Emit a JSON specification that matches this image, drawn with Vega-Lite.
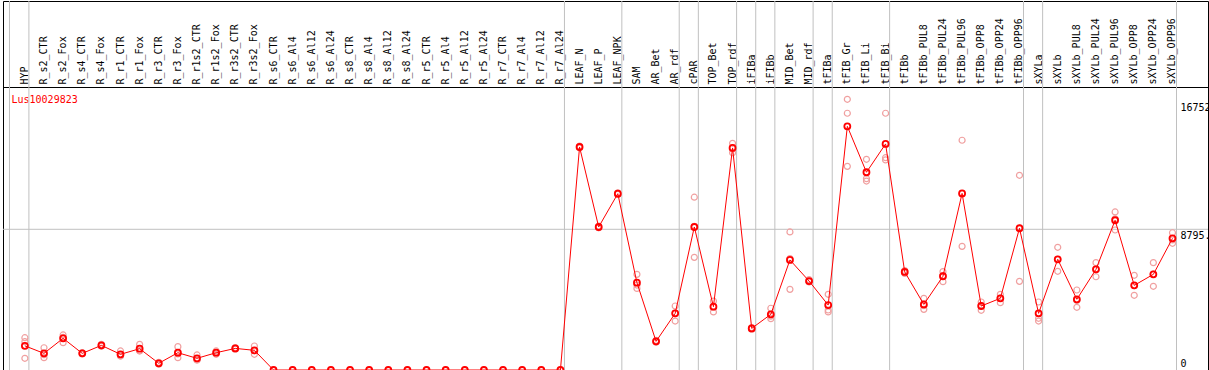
{
  "$schema": "https://vega.github.io/schema/vega-lite/v6.json",
  "padding": {"left": 2, "right": 2, "top": 0, "bottom": 0},
  "background": "white",
  "width": 1205,
  "height": 369,
  "config": {"view": {"stroke": "black", "strokeWidth": 1}, "font": "DejaVu Sans Mono"},
  "datasets": {
    "seps": [{"sample": "HYP"}, {"sample": "R_r7_Al24"}, {"sample": "LEAF_NPK"}, {"sample": "AR_rdf"}, {"sample": "cPAR"}, {"sample": "TOP_rdf"}, {"sample": "iFIBa"}, {"sample": "iFIBb"}, {"sample": "MID_rdf"}, {"sample": "tFIBa"}, {"sample": "tFIB_Bi"}, {"sample": "tFIBb_OPP96"}, {"sample": "sXYLa"}, {"sample": "sXYLb_OPP96"}],
    "sep0": [{"sample": "HYP"}],
    "means": [
      {"sample": "HYP", "value": 1510}, {"sample": "R_s2_CTR", "value": 1040}, {"sample": "R_s2_Fox", "value": 1980}, {"sample": "R_s4_CTR", "value": 1040}, {"sample": "R_s4_Fox", "value": 1540}, {"sample": "R_r1_CTR", "value": 980}, {"sample": "R_r1_Fox", "value": 1330}, {"sample": "R_r3_CTR", "value": 420}, {"sample": "R_r3_Fox", "value": 1080}, {"sample": "R_r1s2_CTR", "value": 730}, {"sample": "R_r1s2_Fox", "value": 1080}, {"sample": "R_r3s2_CTR", "value": 1350}, {"sample": "R_r3s2_Fox", "value": 1230},
      {"sample": "R_s6_CTR", "value": 0}, {"sample": "R_s6_Al4", "value": 0}, {"sample": "R_s6_Al12", "value": 0}, {"sample": "R_s6_Al24", "value": 0}, {"sample": "R_s8_CTR", "value": 0}, {"sample": "R_s8_Al4", "value": 0}, {"sample": "R_s8_Al12", "value": 0}, {"sample": "R_s8_Al24", "value": 0}, {"sample": "R_r5_CTR", "value": 0}, {"sample": "R_r5_Al4", "value": 0}, {"sample": "R_r5_Al12", "value": 0}, {"sample": "R_r5_Al24", "value": 0}, {"sample": "R_r7_CTR", "value": 0}, {"sample": "R_r7_Al4", "value": 0}, {"sample": "R_r7_Al12", "value": 0}, {"sample": "R_r7_Al24", "value": 0},
      {"sample": "LEAF_N", "value": 13940}, {"sample": "LEAF_P", "value": 8940}, {"sample": "LEAF_NPK", "value": 11020}, {"sample": "SAM", "value": 5460}, {"sample": "AR_Bet", "value": 1790}, {"sample": "AR_rdf", "value": 3540}, {"sample": "cPAR", "value": 8940}, {"sample": "TOP_Bet", "value": 3960}, {"sample": "TOP_rdf", "value": 13880}, {"sample": "iFIBa", "value": 2600}, {"sample": "iFIBb", "value": 3480}, {"sample": "MID_Bet", "value": 6880}, {"sample": "MID_rdf", "value": 5560}, {"sample": "tFIBa", "value": 4060}, {"sample": "tFIB_Gr", "value": 15230}, {"sample": "tFIB_Li", "value": 12360}, {"sample": "tFIB_Bi", "value": 14130}, {"sample": "tFIBb", "value": 6130}, {"sample": "tFIBb_PUL8", "value": 4100}, {"sample": "tFIBb_PUL24", "value": 5860}, {"sample": "tFIBb_PUL96", "value": 11040}, {"sample": "tFIBb_OPP8", "value": 4000}, {"sample": "tFIBb_OPP24", "value": 4480}, {"sample": "tFIBb_OPP96", "value": 8860}, {"sample": "sXYLa", "value": 3540}, {"sample": "sXYLb", "value": 6920}, {"sample": "sXYLb_PUL8", "value": 4420}, {"sample": "sXYLb_PUL24", "value": 6290}, {"sample": "sXYLb_PUL96", "value": 9360}, {"sample": "sXYLb_OPP8", "value": 5290}, {"sample": "sXYLb_OPP24", "value": 5980}, {"sample": "sXYLb_OPP96", "value": 8230}
    ],
    "reps": [
      {"sample": "HYP", "value": 2020}, {"sample": "HYP", "value": 1770}, {"sample": "HYP", "value": 730},
      {"sample": "R_s2_CTR", "value": 1390}, {"sample": "R_s2_CTR", "value": 960}, {"sample": "R_s2_CTR", "value": 770},
      {"sample": "R_s2_Fox", "value": 2190}, {"sample": "R_s2_Fox", "value": 2040}, {"sample": "R_s2_Fox", "value": 1710},
      {"sample": "R_s4_CTR", "value": 1080}, {"sample": "R_s4_CTR", "value": 1040}, {"sample": "R_s4_CTR", "value": 1000},
      {"sample": "R_s4_Fox", "value": 1600}, {"sample": "R_s4_Fox", "value": 1540}, {"sample": "R_s4_Fox", "value": 1480},
      {"sample": "R_r1_CTR", "value": 1190}, {"sample": "R_r1_CTR", "value": 875}, {"sample": "R_r1_CTR", "value": 875},
      {"sample": "R_r1_Fox", "value": 1600}, {"sample": "R_r1_Fox", "value": 1200}, {"sample": "R_r1_Fox", "value": 1190},
      {"sample": "R_r3_CTR", "value": 480}, {"sample": "R_r3_CTR", "value": 420}, {"sample": "R_r3_CTR", "value": 360},
      {"sample": "R_r3_Fox", "value": 1460}, {"sample": "R_r3_Fox", "value": 1010}, {"sample": "R_r3_Fox", "value": 770},
      {"sample": "R_r1s2_CTR", "value": 940}, {"sample": "R_r1s2_CTR", "value": 625}, {"sample": "R_r1s2_CTR", "value": 625},
      {"sample": "R_r1s2_Fox", "value": 1190}, {"sample": "R_r1s2_Fox", "value": 1070}, {"sample": "R_r1s2_Fox", "value": 980},
      {"sample": "R_r3s2_CTR", "value": 1400}, {"sample": "R_r3s2_CTR", "value": 1350}, {"sample": "R_r3s2_CTR", "value": 1300},
      {"sample": "R_r3s2_Fox", "value": 1500}, {"sample": "R_r3s2_Fox", "value": 1210}, {"sample": "R_r3s2_Fox", "value": 980},
      {"sample": "R_s6_CTR", "value": 0}, {"sample": "R_s6_Al4", "value": 0}, {"sample": "R_s6_Al12", "value": 0}, {"sample": "R_s6_Al24", "value": 0}, {"sample": "R_s8_CTR", "value": 0}, {"sample": "R_s8_Al4", "value": 0}, {"sample": "R_s8_Al12", "value": 0}, {"sample": "R_s8_Al24", "value": 0}, {"sample": "R_r5_CTR", "value": 0}, {"sample": "R_r5_Al4", "value": 0}, {"sample": "R_r5_Al12", "value": 0}, {"sample": "R_r5_Al24", "value": 0}, {"sample": "R_r7_CTR", "value": 0}, {"sample": "R_r7_Al4", "value": 0}, {"sample": "R_r7_Al12", "value": 0}, {"sample": "R_r7_Al24", "value": 0},
      {"sample": "LEAF_N", "value": 13990}, {"sample": "LEAF_N", "value": 13940}, {"sample": "LEAF_N", "value": 13890},
      {"sample": "LEAF_P", "value": 8990}, {"sample": "LEAF_P", "value": 8940}, {"sample": "LEAF_P", "value": 8890},
      {"sample": "LEAF_NPK", "value": 11070}, {"sample": "LEAF_NPK", "value": 11020}, {"sample": "LEAF_NPK", "value": 10970},
      {"sample": "SAM", "value": 5980}, {"sample": "SAM", "value": 5310}, {"sample": "SAM", "value": 5100},
      {"sample": "AR_Bet", "value": 1850}, {"sample": "AR_Bet", "value": 1790}, {"sample": "AR_Bet", "value": 1730},
      {"sample": "AR_rdf", "value": 4000}, {"sample": "AR_rdf", "value": 3560}, {"sample": "AR_rdf", "value": 3060},
      {"sample": "cPAR", "value": 10800}, {"sample": "cPAR", "value": 8980}, {"sample": "cPAR", "value": 7040},
      {"sample": "TOP_Bet", "value": 4310}, {"sample": "TOP_Bet", "value": 3940}, {"sample": "TOP_Bet", "value": 3630},
      {"sample": "TOP_rdf", "value": 14170}, {"sample": "TOP_rdf", "value": 13890}, {"sample": "TOP_rdf", "value": 13580},
      {"sample": "iFIBa", "value": 2650}, {"sample": "iFIBa", "value": 2600}, {"sample": "iFIBa", "value": 2550},
      {"sample": "iFIBb", "value": 3860}, {"sample": "iFIBb", "value": 3370}, {"sample": "iFIBb", "value": 3210},
      {"sample": "MID_Bet", "value": 8630}, {"sample": "MID_Bet", "value": 6970}, {"sample": "MID_Bet", "value": 5040},
      {"sample": "MID_rdf", "value": 5650}, {"sample": "MID_rdf", "value": 5520}, {"sample": "MID_rdf", "value": 5510},
      {"sample": "tFIBa", "value": 4730}, {"sample": "tFIBa", "value": 3750}, {"sample": "tFIBa", "value": 3630},
      {"sample": "tFIB_Gr", "value": 16920}, {"sample": "tFIB_Gr", "value": 16050}, {"sample": "tFIB_Gr", "value": 12730},
      {"sample": "tFIB_Li", "value": 13170}, {"sample": "tFIB_Li", "value": 11960}, {"sample": "tFIB_Li", "value": 11810},
      {"sample": "tFIB_Bi", "value": 16050}, {"sample": "tFIB_Bi", "value": 13270}, {"sample": "tFIB_Bi", "value": 13130},
      {"sample": "tFIBb", "value": 6220}, {"sample": "tFIBb", "value": 6130}, {"sample": "tFIBb", "value": 6040},
      {"sample": "tFIBb_PUL8", "value": 4480}, {"sample": "tFIBb_PUL8", "value": 4030}, {"sample": "tFIBb_PUL8", "value": 3790},
      {"sample": "tFIBb_PUL24", "value": 6150}, {"sample": "tFIBb_PUL24", "value": 5900}, {"sample": "tFIBb_PUL24", "value": 5520},
      {"sample": "tFIBb_PUL96", "value": 14360}, {"sample": "tFIBb_PUL96", "value": 11030}, {"sample": "tFIBb_PUL96", "value": 7730},
      {"sample": "tFIBb_OPP8", "value": 4250}, {"sample": "tFIBb_OPP8", "value": 4020}, {"sample": "tFIBb_OPP8", "value": 3730},
      {"sample": "tFIBb_OPP24", "value": 4730}, {"sample": "tFIBb_OPP24", "value": 4500}, {"sample": "tFIBb_OPP24", "value": 4210},
      {"sample": "tFIBb_OPP96", "value": 12170}, {"sample": "tFIBb_OPP96", "value": 8870}, {"sample": "tFIBb_OPP96", "value": 5540},
      {"sample": "sXYLa", "value": 4250}, {"sample": "sXYLa", "value": 3230}, {"sample": "sXYLa", "value": 3060},
      {"sample": "sXYLb", "value": 7670}, {"sample": "sXYLb", "value": 6920}, {"sample": "sXYLb", "value": 6170},
      {"sample": "sXYLb_PUL8", "value": 5000}, {"sample": "sXYLb_PUL8", "value": 4340}, {"sample": "sXYLb_PUL8", "value": 3920},
      {"sample": "sXYLb_PUL24", "value": 6710}, {"sample": "sXYLb_PUL24", "value": 6330}, {"sample": "sXYLb_PUL24", "value": 5830},
      {"sample": "sXYLb_PUL96", "value": 9880}, {"sample": "sXYLb_PUL96", "value": 9450}, {"sample": "sXYLb_PUL96", "value": 8750},
      {"sample": "sXYLb_OPP8", "value": 5920}, {"sample": "sXYLb_OPP8", "value": 5280}, {"sample": "sXYLb_OPP8", "value": 4670},
      {"sample": "sXYLb_OPP24", "value": 6710}, {"sample": "sXYLb_OPP24", "value": 6000}, {"sample": "sXYLb_OPP24", "value": 5230},
      {"sample": "sXYLb_OPP96", "value": 8580}, {"sample": "sXYLb_OPP96", "value": 8130}, {"sample": "sXYLb_OPP96", "value": 7920}
    ]
  },
  "layer": [
    {
      "data": {"name": "seps"},
      "mark": {"type": "rule", "color": "#c0c0c0", "strokeWidth": 1},
      "encoding": {
        "x": {
          "field": "sample", "type": "nominal", "bandPosition": 0.7105,
          "scale": {"type": "band", "domain": ["HYP","R_s2_CTR","R_s2_Fox","R_s4_CTR","R_s4_Fox","R_r1_CTR","R_r1_Fox","R_r3_CTR","R_r3_Fox","R_r1s2_CTR","R_r1s2_Fox","R_r3s2_CTR","R_r3s2_Fox","R_s6_CTR","R_s6_Al4","R_s6_Al12","R_s6_Al24","R_s8_CTR","R_s8_Al4","R_s8_Al12","R_s8_Al24","R_r5_CTR","R_r5_Al4","R_r5_Al12","R_r5_Al24","R_r7_CTR","R_r7_Al4","R_r7_Al12","R_r7_Al24","LEAF_N","LEAF_P","LEAF_NPK","SAM","AR_Bet","AR_rdf","cPAR","TOP_Bet","TOP_rdf","iFIBa","iFIBb","MID_Bet","MID_rdf","tFIBa","tFIB_Gr","tFIB_Li","tFIB_Bi","tFIBb","tFIBb_PUL8","tFIBb_PUL24","tFIBb_PUL96","tFIBb_OPP8","tFIBb_OPP24","tFIBb_OPP96","sXYLa","sXYLb","sXYLb_PUL8","sXYLb_PUL24","sXYLb_PUL96","sXYLb_OPP8","sXYLb_OPP24","sXYLb_OPP96"], "paddingInner": 0, "paddingOuter": 1.2105, "align": 0.3217},
          "axis": {"orient": "top", "offset": -86, "title": "Lus10029823", "titleColor": "#ff0000", "titleFont": "DejaVu Sans Mono", "titleFontSize": 10, "titleFontWeight": "normal", "titleAngle": 0, "titleAlign": "left", "titleBaseline": "alphabetic", "titleX": 8, "titleY": 15, "domain": true, "domainColor": "black", "domainWidth": 1, "ticks": false, "tickSize": 0, "grid": false, "labelAngle": -90, "labelAlign": "left", "labelBaseline": "middle", "labelPadding": 3, "labelFont": "DejaVu Sans Mono", "labelFontSize": 10, "labelColor": "black", "labelOverlap": false, "labelBound": false, "labelFlush": false}
        }
      }
    },
    {
      "data": {"name": "sep0"},
      "mark": {"type": "rule", "color": "#c0c0c0", "strokeWidth": 1},
      "encoding": {
        "x": {"field": "sample", "type": "nominal", "bandPosition": -0.305}
      }
    },
    {
      "data": {"values": [{}]},
      "mark": {"type": "rule", "color": "#c0c0c0", "strokeWidth": 1},
      "encoding": {
        "y": {
          "datum": 8795.5, "type": "quantitative",
          "scale": {"domain": [0, 23065], "nice": false, "zero": true},
          "axis": {"orient": "right", "title": null, "values": [0, 8795.5, 16752], "grid": false, "domain": false, "ticks": false, "tickSize": 0, "labelPadding": -28, "labelAlign": "left", "labelBaseline": "alphabetic", "labelOffset": {"condition": {"test": "datum.value == 0", "value": -4}, "value": 9}, "labelExpr": "datum.value == 0 ? '0' : substring(toString(datum.value), 0, 5)", "labelFont": "DejaVu Sans Mono", "labelFontSize": 10, "labelColor": "black", "labelFlush": false, "labelOverlap": false, "labelBound": false}
        }
      }
    },
    {
      "data": {"name": "reps"},
      "mark": {"type": "point", "shape": "circle", "filled": false, "color": "#f0a0a0", "size": 36, "strokeWidth": 1.2, "opacity": 1},
      "encoding": {
        "x": {"field": "sample", "type": "nominal"},
        "y": {"field": "value", "type": "quantitative"}
      }
    },
    {
      "data": {"name": "means"},
      "mark": {"type": "line", "color": "#ff0000", "strokeWidth": 1},
      "encoding": {
        "x": {"field": "sample", "type": "nominal"},
        "y": {"field": "value", "type": "quantitative"},
        "order": {"value": null}
      }
    },
    {
      "data": {"name": "means"},
      "mark": {"type": "point", "shape": "circle", "filled": false, "color": "#ff0000", "size": 36, "strokeWidth": 1.8, "opacity": 1},
      "encoding": {
        "x": {"field": "sample", "type": "nominal"},
        "y": {"field": "value", "type": "quantitative"}
      }
    }
  ]
}
